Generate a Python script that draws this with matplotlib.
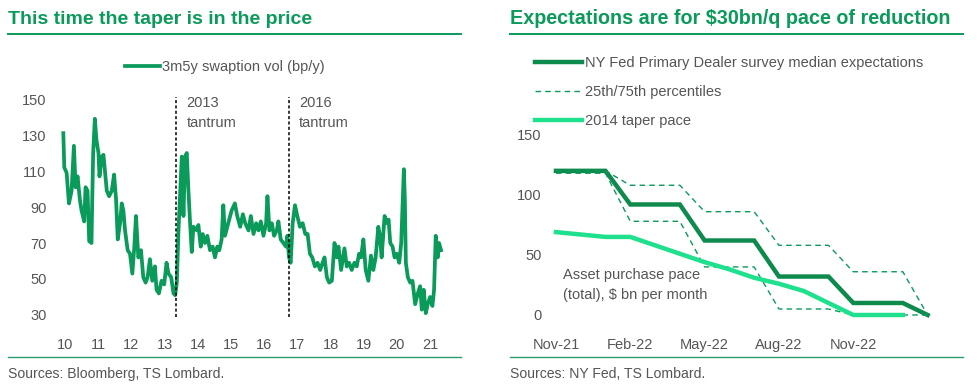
import numpy as np
import matplotlib as mpl
mpl.use('Agg')
import matplotlib.pyplot as plt
from matplotlib.lines import Line2D

plt.rcParams['font.family'] = ['Liberation Sans', 'DejaVu Sans']

GREEN = '#0a9a5a'
DARK = '#0d8a4c'
MINT = '#1fe08c'
GREY = '#555555'

# left panel: 3m5y swaption vol (decimal year, bp/y)
vol_year = [2009.95, 2009.98, 2010.05, 2010.12, 2010.20, 2010.27, 2010.32, 2010.38, 2010.45, 2010.50,
            2010.58, 2010.62, 2010.68, 2010.73, 2010.80, 2010.82, 2010.85, 2010.90, 2010.95, 2011.01,
            2011.04, 2011.11, 2011.16, 2011.21, 2011.26, 2011.33, 2011.41, 2011.48, 2011.54, 2011.59,
            2011.66, 2011.71, 2011.76, 2011.81, 2011.89, 2011.96, 2012.03, 2012.09, 2012.14, 2012.21,
            2012.29, 2012.36, 2012.43, 2012.49, 2012.56, 2012.63, 2012.71, 2012.76, 2012.83, 2012.91,
            2012.99, 2013.06, 2013.12, 2013.20, 2013.27, 2013.32, 2013.37, 2013.42,
            2013.52, 2013.57, 2013.62, 2013.67, 2013.72, 2013.77, 2013.82, 2013.87, 2013.97, 2014.02,
            2014.09, 2014.15, 2014.22, 2014.29, 2014.37, 2014.45, 2014.52, 2014.59, 2014.65, 2014.72,
            2014.77, 2014.82, 2014.92, 2015.02, 2015.12, 2015.19, 2015.28, 2015.36, 2015.43, 2015.53,
            2015.60, 2015.68, 2015.76, 2015.83, 2015.90, 2015.98, 2016.06, 2016.10, 2016.16, 2016.23,
            2016.30, 2016.38, 2016.43, 2016.50, 2016.58, 2016.66, 2016.70, 2016.75, 2016.80, 2016.86,
            2016.93, 2017.00, 2017.08, 2017.16, 2017.24,
            2017.31, 2017.38, 2017.45, 2017.53, 2017.61, 2017.69, 2017.76, 2017.82, 2017.89, 2017.96,
            2018.04, 2018.12, 2018.19, 2018.24, 2018.32, 2018.42, 2018.49, 2018.56, 2018.64, 2018.72,
            2018.79, 2018.86, 2018.92, 2018.99, 2019.06, 2019.14, 2019.22, 2019.29, 2019.36, 2019.44,
            2019.49, 2019.54, 2019.63, 2019.70, 2019.75, 2019.80, 2019.87, 2019.93, 2020.00, 2020.07,
            2020.13, 2020.17, 2020.21, 2020.24, 2020.27, 2020.33, 2020.40, 2020.47, 2020.55, 2020.63,
            2020.70, 2020.75, 2020.81, 2020.87, 2020.93, 2021.00, 2021.07, 2021.12, 2021.17, 2021.23,
            2021.27, 2021.33]
vol = [131, 112, 109, 92, 99, 124, 101, 107, 94, 88,
       82, 101, 99, 71, 70, 92, 120, 139, 127, 120,
       107, 118, 119, 109, 99, 96, 99, 108, 94, 72,
       81, 92, 88, 77, 66, 64, 53, 68, 85, 62,
       66, 51, 48, 51, 61, 49, 57, 44, 42, 49,
       47, 59, 53, 51, 42, 41, 48, 77,
       118, 85, 118, 120, 99, 81, 65, 79, 77, 80,
       68, 75, 70, 74, 66, 68, 62, 68, 66, 72,
       91, 74, 81, 88, 92, 85, 79, 86, 81, 77,
       85, 75, 81, 77, 82, 74, 81, 96, 77, 81,
       74, 77, 82, 72, 70, 68, 74, 62, 59, 81,
       91, 85, 79, 81, 75,
       75, 64, 62, 57, 59, 55, 59, 62, 51, 48,
       49, 70, 62, 68, 55, 67, 57, 59, 55, 59,
       57, 64, 62, 72, 55, 49, 63, 55, 62, 79,
       74, 62, 85, 81, 83, 70, 68, 62, 64, 59,
       70, 90, 111, 94, 59, 51, 48, 49, 36, 42,
       46, 33, 44, 31, 36, 40, 35, 44, 74, 62,
       70, 66]
tantrums = [2013.36, 2016.75]
tantrum_labels = ['2013\ntantrum', '2016\ntantrum']
left_years = list(range(2010, 2022))
left_ticklabels = [str(y)[2:] for y in left_years]

# right panel: asset purchase pace, $bn per month
months = ['Nov-21', 'Dec-21', 'Jan-22', 'Feb-22', 'Mar-22', 'Apr-22', 'May-22', 'Jun-22',
          'Jul-22', 'Aug-22', 'Sep-22', 'Oct-22', 'Nov-22', 'Dec-22', 'Jan-23', 'Feb-23']
median = [120, 120, 120, 92, 92, 92, 62, 62, 62, 32, 32, 32, 10, 10, 10, 0]
p75 = [120, 120, 120, 108, 108, 108, 86, 86, 86, 58, 58, 58, 36, 36, 36, 0]
p25 = [118, 118, 118, 78, 78, 78, 40, 40, 40, 5, 5, 5, 0, 0, 0, 0]
taper14 = [69, 67, 65, 65, 58, 51, 44, 38, 31, 26, 20, 10, 0, 0, 0]

fig = plt.figure(figsize=(9.77, 3.87), dpi=100)
W, H = 977.0, 387.0

def px_axes(l, t, r, b):
    return fig.add_axes([l / W, 1 - b / H, (r - l) / W, (b - t) / H])

# ---- left panel
ax = px_axes(55, 90, 450, 324)
ax.plot(vol_year, vol, color=GREEN, lw=2.7, label='3m5y swaption vol (bp/y)')
ax.vlines(tantrums, 29, 151, colors='black', linestyles=(0, (2, 1.5)), lw=1.1)
for x, lab in zip(tantrums, tantrum_labels):
    ax.text(x + 0.3, 151.5, lab, va='top', ha='left', fontsize=10.5, color=GREY, linespacing=1.5)
ax.set_xlim(2009.7, 2021.6)
ax.set_ylim(25, 155)
ax.set_yticks(range(30, 151, 20))
ax.set_xticks(left_years)
ax.set_xticklabels(left_ticklabels)
ax.legend(loc='upper left', bbox_to_anchor=(125 / W, 1 - 60 / H), bbox_transform=fig.transFigure,
          frameon=False, fontsize=10.5, handlelength=2.4, handletextpad=0.15, labelcolor=GREY,
          borderaxespad=0, borderpad=0)

# ---- right panel
ax2 = px_axes(550, 130, 940, 324)
x = np.arange(len(months))
ax2.plot(x, median, color=DARK, lw=3.2, label='NY Fed Primary Dealer survey median expectations',
         solid_joinstyle='miter')
ax2.plot(x, p75, color=GREEN, lw=1.0, ls=(0, (4, 3)), label='25th/75th percentiles')
ax2.plot(x, p25, color=GREEN, lw=1.0, ls=(0, (4, 3)))
ax2.plot(x[:len(taper14)], taper14, color=MINT, lw=3.2, label='2014 taper pace')
ax2.text(0.3, 39, 'Asset purchase pace\n(total), $ bn per month', fontsize=10.5, color=GREY,
         va='top', ha='left', linespacing=1.5)
ax2.set_xlim(-0.24, 15.5)
ax2.set_ylim(-7.5, 154)
ax2.set_yticks([0, 50, 100, 150])
ax2.set_xticks(x[::3][:5])
ax2.set_xticklabels(months[::3][:5])
fig.legend(*ax2.get_legend_handles_labels(), loc='upper left',
           bbox_to_anchor=(535 / W, 1 - 56 / H), frameon=False, fontsize=10.5,
           handlelength=3.2, handletextpad=0.2, labelspacing=1.02, labelcolor=GREY,
           borderaxespad=0, borderpad=0)

for a in (ax, ax2):
    for s in a.spines.values():
        s.set_visible(False)
    a.tick_params(length=0, labelsize=10.5, labelcolor=GREY, pad=6)
    a.tick_params(axis='x', pad=10)

# titles, rules, sources
fig.text(8 / W, 1 - 19 / H, 'This time the taper is in the price', fontsize=14, fontweight='bold',
         color=GREEN, va='center', ha='left')
fig.text(510 / W, 1 - 19 / H, 'Expectations are for $30bn/q pace of reduction', fontsize=14.2,
         fontweight='bold', color=GREEN, va='center', ha='left')
for l, r in [(8, 461), (510, 963)]:
    fig.add_artist(Line2D([l / W, r / W], [1 - 34 / H] * 2, color=GREEN, lw=1.4))
    fig.add_artist(Line2D([l / W, r / W], [1 - 357 / H] * 2, color='#2a9d6e', lw=1.0))
fig.text(8 / W, 1 - 374 / H, 'Sources: Bloomberg, TS Lombard.', fontsize=10.1, color=GREY,
         va='center', ha='left')
fig.text(510 / W, 1 - 374 / H, 'Sources: NY Fed, TS Lombard.', fontsize=10.1, color=GREY,
         va='center', ha='left')

fig.savefig('out.png', dpi=100)
